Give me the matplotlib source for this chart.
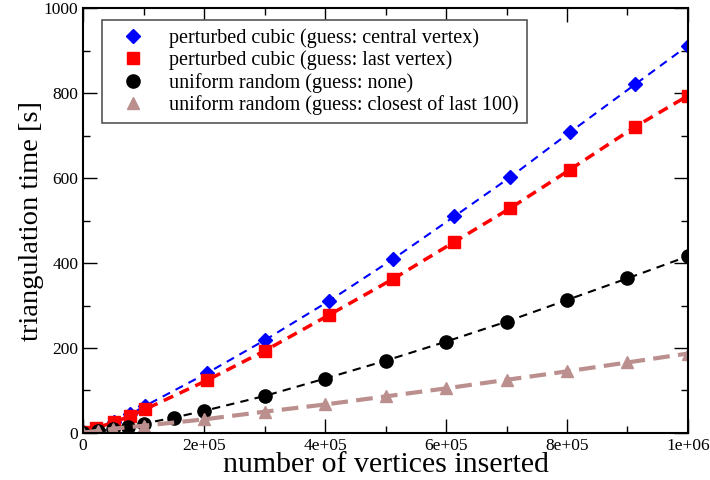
import matplotlib
matplotlib.use('Agg')
import matplotlib.pyplot as plt
from matplotlib.ticker import MultipleLocator

plt.rcParams['font.family'] = ['Liberation Serif', 'DejaVu Serif']

# vertices inserted / triangulation time [s]
x_cubic = [0, 21000, 51000, 78000, 103000, 205000, 301000, 407000, 513000, 614000, 706000, 805000, 913000, 1000000]
t_central = [2, 10, 25, 44, 64, 141, 219, 311, 410, 510, 602, 708, 821, 912]
t_last = [2, 12, 25, 40, 56, 124, 194, 278, 363, 450, 529, 620, 721, 794]

x_uniform = [0, 25000, 50000, 75000, 100000, 150000, 200000, 300000, 400000, 500000, 600000, 700000, 800000, 900000, 1000000]
t_none = [1, 5, 9, 14, 22, 36, 52, 87, 128, 170, 215, 262, 313, 364, 416]

x_closest = [0, 25000, 50000, 100000, 200000, 300000, 400000, 500000, 600000, 700000, 800000, 900000, 1000000]
t_closest = [1, 5, 10, 17, 32, 50, 67, 86, 105, 125, 145, 166, 187]

fig = plt.figure(figsize=(7.1, 4.8), dpi=100)
ax = fig.add_axes([0.117, 0.098, 0.852, 0.885])

ax.plot(x_cubic, t_central, color='blue', ls=(0, (4, 3)), lw=1.5, marker='D', ms=7,
        label='perturbed cubic (guess: central vertex)')
ax.plot(x_cubic, t_last, color='red', ls=(0, (3, 2)), lw=2.5, marker='s', ms=8,
        label='perturbed cubic (guess: last vertex)')
ax.plot(x_uniform, t_none, color='black', ls=(0, (4, 3)), lw=1.5, marker='o', ms=9.5,
        label='uniform random (guess: none)')
ax.plot(x_closest, t_closest, color='#bc8f8f', ls=(0, (4, 2)), lw=3, marker='^', ms=9,
        label='uniform random (guess: closest of last 100)')

ax.set_xlim(0, 1000000)
ax.set_ylim(0, 1000)
ax.xaxis.set_minor_locator(MultipleLocator(100000))
ax.yaxis.set_major_locator(MultipleLocator(200))
ax.yaxis.set_minor_locator(MultipleLocator(100))
ax.set_xticks([0, 200000, 400000, 600000, 800000, 1000000])
ax.set_xticklabels(['0', '2e+05', '4e+05', '6e+05', '8e+05', '1e+06'])
ax.tick_params(which='both', direction='in', top=True, right=True, labelsize=12.5)
ax.tick_params(which='major', length=10, width=1)
ax.tick_params(which='minor', length=5, width=1)
for s in ax.spines.values():
    s.set_linewidth(1.5)

ax.set_xlabel('number of vertices inserted', fontsize=21.5, labelpad=-1)
ax.set_ylabel('triangulation time [s]', fontsize=20.5, labelpad=0)

leg = ax.legend(loc='upper left', bbox_to_anchor=(0.031, 0.972), fontsize=14.5,
                fancybox=False, framealpha=1, edgecolor='#555555',
                handlelength=2.3, handletextpad=0.65, borderpad=0.4, labelspacing=0.13,
                borderaxespad=0)
leg.get_frame().set_linewidth(1.2)
for h in leg.legend_handles:
    h.set_linestyle('None')

fig.savefig('out.png', dpi=100)
